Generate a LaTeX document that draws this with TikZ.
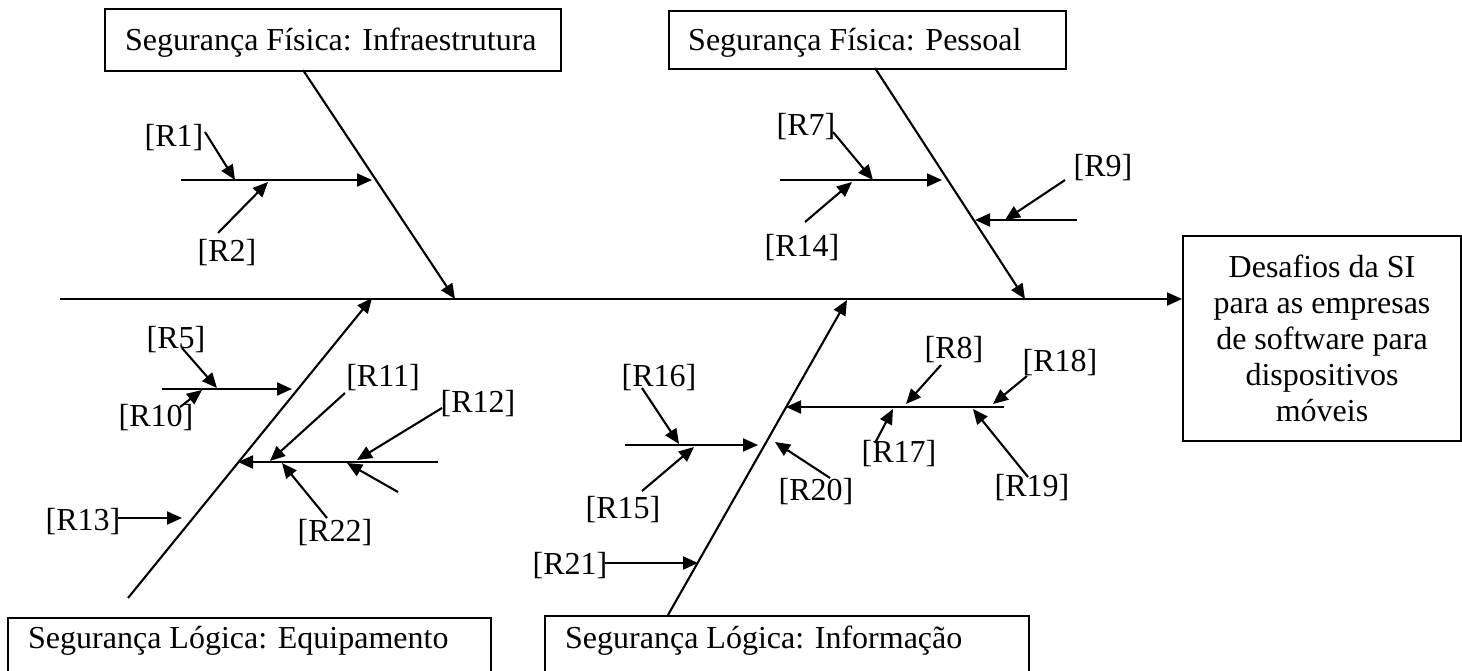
\documentclass[tikz,border=0pt]{standalone}
\usepackage{fontspec}
\setmainfont{Liberation Serif}
\usetikzlibrary{arrows.meta}
\begin{document}
\begin{tikzpicture}[x=1pt,y=-1pt,
  bone/.style={line width=2.1pt,-{Triangle[length=15pt,width=13pt]}},
  lbl/.style={font=\fontsize{32}{36}\selectfont,inner sep=0pt},
  frame/.style={draw,line width=2pt,inner sep=0pt},
  txt/.style={font=\fontsize{32}{36}\selectfont,inner sep=0pt,anchor=base west}]
\useasboundingbox (0,0) rectangle (1462,670);
\clip (0,0) rectangle (1462,670);

% category boxes
\node[frame,minimum width=456pt,minimum height=62pt,anchor=north west] (infra) at (104,8) {};
\node[txt] (infraT) at (125,50) {Segurança Física: Infraestrutura};
\node[frame,minimum width=397pt,minimum height=58pt,anchor=north west] (pess) at (668,10) {};
\node[txt] (pessT) at (688,50) {Segurança Física: Pessoal};
\node[frame,minimum width=483pt,minimum height=90pt,anchor=north west] (equip) at (7,617) {};
\node[txt] (equipT) at (28,648) {Segurança Lógica: Equipamento};
\node[frame,minimum width=484pt,minimum height=90pt,anchor=north west] (info) at (544,615) {};
\node[txt] (infoT) at (565,648) {Segurança Lógica: Informação};

% effect box
\node[frame,minimum width=278pt,minimum height=205pt,anchor=north west] (effect) at (1182,235) {};
\node[lbl,align=center,font=\fontsize{32}{36}\selectfont] (effectT) at (effect.center)
  {Desafios da SI\\para as empresas\\de software para\\dispositivos\\móveis};

% spine
\coordinate (spineL) at (60,299);
\draw[bone] (spineL) -- (spineL -| effect.west);

% main bones
\coordinate (b1s) at (303,70);  \coordinate (b1e) at (455,299);
\coordinate (b2s) at (875,68);  \coordinate (b2e) at (1025,299);
\coordinate (b3s) at (128,598); \coordinate (b3e) at (372,298);
\coordinate (b4s) at (668,615); \coordinate (b4e) at (847,300);
\draw[bone] (b1s) -- (b1e);
\draw[bone] (b2s) -- (b2e);
\draw[bone] (b3s) -- (b3e);
\draw[bone] (b4s) -- (b4e);

% labels
\node[lbl] (R1)  at (174,138) {[R1]};
\node[lbl] (R2)  at (227,253) {[R2]};
\node[lbl] (R7)  at (806,127) {[R7]};
\node[lbl] (R14) at (802,248) {[R14]};
\node[lbl] (R9)  at (1103,168) {[R9]};
\node[lbl] (R5)  at (176,340) {[R5]};
\node[lbl] (R10) at (156,418) {[R10]};
\node[lbl] (R11) at (383,378) {[R11]};
\node[lbl] (R12) at (478,404) {[R12]};
\node[lbl] (R22) at (335,533) {[R22]};
\node[lbl] (R13) at (83,522) {[R13]};
\node[lbl] (R16) at (659,378) {[R16]};
\node[lbl] (R15) at (623,510) {[R15]};
\node[lbl] (R20) at (816,492) {[R20]};
\node[lbl] (R21) at (570,566) {[R21]};
\node[lbl] (R8)  at (954,350) {[R8]};
\node[lbl] (R18) at (1060,363) {[R18]};
\node[lbl] (R17) at (899,454) {[R17]};
\node[lbl] (R19) at (1032,488) {[R19]};

% Infraestrutura branch
\coordinate (h1s) at (181,180); \coordinate (h1e) at (372,180);
\coordinate (r1s) at (205,132); \coordinate (r1e) at (235,180);
\coordinate (r2s) at (218,233); \coordinate (r2e) at (268,182);
\draw[bone] (h1s) -- (h1e);
\draw[bone] (r1s) -- (r1e);
\draw[bone] (r2s) -- (r2e);

% Pessoal branch
\coordinate (h2s) at (780,180);  \coordinate (h2e) at (942,180);
\coordinate (r7s) at (833,132);  \coordinate (r7e) at (873,180);
\coordinate (r14s) at (805,222); \coordinate (r14e) at (852,182);
\coordinate (h9s) at (1077,220); \coordinate (h9e) at (975,220);
\coordinate (r9s) at (1065,180); \coordinate (r9e) at (1005,220);
\draw[bone] (h2s) -- (h2e);
\draw[bone] (r7s) -- (r7e);
\draw[bone] (r14s) -- (r14e);
\draw[bone] (h9s) -- (h9e);
\draw[bone] (r9s) -- (r9e);

% Equipamento branch
\coordinate (h3s) at (162,389);  \coordinate (h3e) at (292,389);
\coordinate (r5s) at (182,348);  \coordinate (r5e) at (217,388);
\coordinate (r10s) at (180,407); \coordinate (r10e) at (202,390);
\coordinate (h4s) at (438,462);  \coordinate (h4e) at (238,462);
\coordinate (r11s) at (345,393); \coordinate (r11e) at (270,461);
\coordinate (r12s) at (442,408); \coordinate (r12e) at (357,460);
\coordinate (ufs) at (398,492);  \coordinate (ufe) at (347,463);
\coordinate (r22s) at (327,518); \coordinate (r22e) at (282,463);
\coordinate (r13s) at (118,518); \coordinate (r13e) at (182,518);
\draw[bone] (h3s) -- (h3e);
\draw[bone] (r5s) -- (r5e);
\draw[bone] (r10s) -- (r10e);
\draw[bone] (h4s) -- (h4e);
\draw[bone] (r11s) -- (r11e);
\draw[bone] (r12s) -- (r12e);
\draw[bone] (ufs) -- (ufe);
\draw[bone] (r22s) -- (r22e);
\draw[bone] (r13s) -- (r13e);

% Informação branch
\coordinate (h5s) at (625,445);  \coordinate (h5e) at (758,445);
\coordinate (r16s) at (642,388); \coordinate (r16e) at (679,444);
\coordinate (r15s) at (642,491); \coordinate (r15e) at (694,447);
\coordinate (r20s) at (830,478); \coordinate (r20e) at (775,442);
\coordinate (r21s) at (605,563); \coordinate (r21e) at (698,563);
\coordinate (h6s) at (1004,407); \coordinate (h6e) at (786,407);
\coordinate (r8s) at (941,365);  \coordinate (r8e) at (906,404);
\coordinate (r18s) at (1027,376); \coordinate (r18e) at (993,404);
\coordinate (r17s) at (875,443); \coordinate (r17e) at (893,409);
\coordinate (r19s) at (1028,477); \coordinate (r19e) at (973,409);
\draw[bone] (h5s) -- (h5e);
\draw[bone] (r16s) -- (r16e);
\draw[bone] (r15s) -- (r15e);
\draw[bone] (r20s) -- (r20e);
\draw[bone] (r21s) -- (r21e);
\draw[bone] (h6s) -- (h6e);
\draw[bone] (r8s) -- (r8e);
\draw[bone] (r18s) -- (r18e);
\draw[bone] (r17s) -- (r17e);
\draw[bone] (r19s) -- (r19e);
\end{tikzpicture}
\end{document}
